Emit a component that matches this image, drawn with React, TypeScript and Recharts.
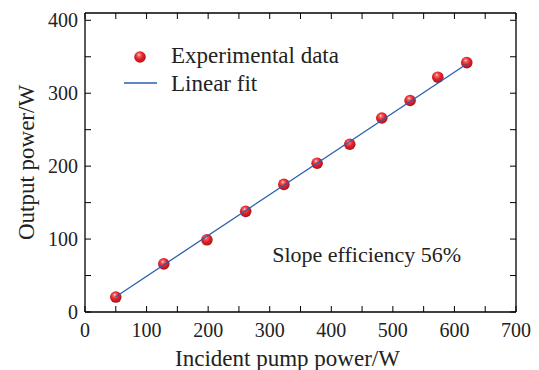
import { ScatterChart, Scatter, XAxis, YAxis, Legend, ReferenceDot } from 'recharts'

const pumpPower = [50, 128, 198, 261, 323, 377, 430, 482, 528, 573, 620]
const outputPower = [20.5, 66, 99, 138, 175, 204, 230, 266, 290, 322, 342]
const fitPump = [50, 620]
const fitOutput = [21, 340]
const xTicks = [0, 50, 100, 150, 200, 250, 300, 350, 400, 450, 500, 550, 600, 650, 700]
const yTicks = [0, 50, 100, 150, 200, 250, 300, 350, 400]
const slopeText = 'Slope efficiency 56%'

const measured = pumpPower.map((x, i) => ({ x, y: outputPower[i] }))
const fit = fitPump.map((x, i) => ({ x, y: fitOutput[i] }))

const font = 'Liberation Serif, DejaVu Serif, serif'
const majorOnly = (v: number) => (v % 100 === 0 ? String(v) : '')
const noLabel = () => ''

const Ball = (props: any) => {
    const { cx, cy } = props
    if (cx == null || cy == null) return null
    return <circle cx={cx} cy={cy} r={5.8} fill="url(#ball)" />
}

const LegendBox = (props: any) => {
    const items = (props.payload || []).filter((it: any) => it.type !== 'none')
    return (
        <svg width={260} height={60} style={{ display: 'block' }}>
            {items.map((item: any, i: number) => {
                const isLine = item.value === 'Linear fit'
                const base = i === 0 ? 23 : 51
                return (
                    <g key={i}>
                        {isLine ? (
                            <line x1={4} x2={37} y1={43} y2={43} stroke="#2b5fad" strokeWidth={1.3} />
                        ) : (
                            <circle cx={20} cy={17} r={5.8} fill="url(#ball)" />
                        )}
                        <text x={51} y={base} style={{ fontFamily: font }} fontSize={23} fill="#222">
                            {item.value}
                        </text>
                    </g>
                )
            })}
        </svg>
    )
}

export default function App() {
    return (
        <div style={{ position: 'absolute', left: 0, top: 0, width: 539, height: 370, background: '#fff', fontFamily: font }}>
            <svg width={0} height={0} style={{ position: 'absolute' }}>
                <defs>
                    <radialGradient id="ball" cx="0.45" cy="0.4" r="0.6" fx="0.4" fy="0.3">
                        <stop offset="0%" stopColor="#fff0f0" />
                        <stop offset="18%" stopColor="#f46a6c" />
                        <stop offset="55%" stopColor="#e42128" />
                        <stop offset="100%" stopColor="#a8151a" />
                    </radialGradient>
                </defs>
            </svg>
            <ScatterChart
                width={539}
                height={370}
                margin={{ top: 0, right: 10, bottom: 0, left: 0 }}
                style={{ fontFamily: font }}
            >
                <XAxis
                    xAxisId="bottom"
                    type="number"
                    dataKey="x"
                    domain={[0, 700]}
                    ticks={xTicks}
                    allowDataOverflow
                    tickFormatter={majorOnly}
                    tickSize={-6}
                    tickMargin={17}
                    height={58}
                    axisLine={{ stroke: '#000', strokeWidth: 1.3 }}
                    tickLine={{ stroke: '#000' }}
                    tick={{ fill: '#222', fontSize: 20, style: { fontFamily: font } }}
                    label={{
                        value: 'Incident pump power/W',
                        position: 'insideBottom',
                        offset: 4,
                        dx: -13,
                        fill: '#222',
                        fontSize: 23,
                        style: { fontFamily: font },
                    }}
                />
                <XAxis
                    xAxisId="top"
                    orientation="top"
                    type="number"
                    dataKey="x"
                    domain={[0, 700]}
                    ticks={xTicks}
                    allowDataOverflow
                    tickFormatter={noLabel}
                    tickSize={-6}
                    height={13}
                    axisLine={{ stroke: '#000', strokeWidth: 1.3 }}
                    tickLine={{ stroke: '#000' }}
                />
                <YAxis
                    yAxisId="left"
                    type="number"
                    dataKey="y"
                    domain={[0, 410]}
                    ticks={yTicks}
                    allowDataOverflow
                    tickFormatter={majorOnly}
                    tickSize={-6}
                    tickMargin={13}
                    width={85}
                    axisLine={{ stroke: '#000', strokeWidth: 1.3 }}
                    tickLine={{ stroke: '#000' }}
                    tick={{ fill: '#222', fontSize: 20, style: { fontFamily: font } }}
                    label={{
                        value: 'Output power/W',
                        angle: -90,
                        position: 'center',
                        dx: -17,
                        fill: '#222',
                        fontSize: 23,
                        style: { fontFamily: font },
                    }}
                />
                <YAxis
                    yAxisId="right"
                    orientation="right"
                    type="number"
                    dataKey="y"
                    domain={[0, 410]}
                    ticks={yTicks}
                    allowDataOverflow
                    tickFormatter={noLabel}
                    tickSize={-6}
                    width={13}
                    axisLine={{ stroke: '#000', strokeWidth: 1.3 }}
                    tickLine={{ stroke: '#000' }}
                />
                <Legend
                    layout="vertical"
                    align="center"
                    verticalAlign="middle"
                    wrapperStyle={{ position: 'absolute', left: 120, top: 40, width: 260, height: 60 }}
                    content={<LegendBox />}
                />
                <Scatter
                    name="Experimental data"
                    xAxisId="bottom"
                    yAxisId="left"
                    data={measured}
                    shape={<Ball />}
                    isAnimationActive={false}
                />
                <Scatter
                    name="Linear fit"
                    xAxisId="bottom"
                    yAxisId="left"
                    data={fit}
                    line={{ stroke: '#2b5fad', strokeWidth: 1.3 }}
                    shape={() => <g />}
                    isAnimationActive={false}
                />
                <Scatter
                    name="mirror"
                    xAxisId="top"
                    yAxisId="right"
                    data={measured}
                    legendType="none"
                    shape={() => <g />}
                    isAnimationActive={false}
                />
                <ReferenceDot
                    xAxisId="bottom"
                    yAxisId="left"
                    x={304}
                    y={68.5}
                    r={0}
                    stroke="none"
                    fill="none"
                    label={(p: any) => (
                        <text
                            x={p.viewBox.x}
                            y={p.viewBox.y}
                            style={{ fontFamily: font }}
                            fontSize={22}
                            fill="#222"
                        >
                            {slopeText}
                        </text>
                    )}
                />
            </ScatterChart>
        </div>
    )
}
